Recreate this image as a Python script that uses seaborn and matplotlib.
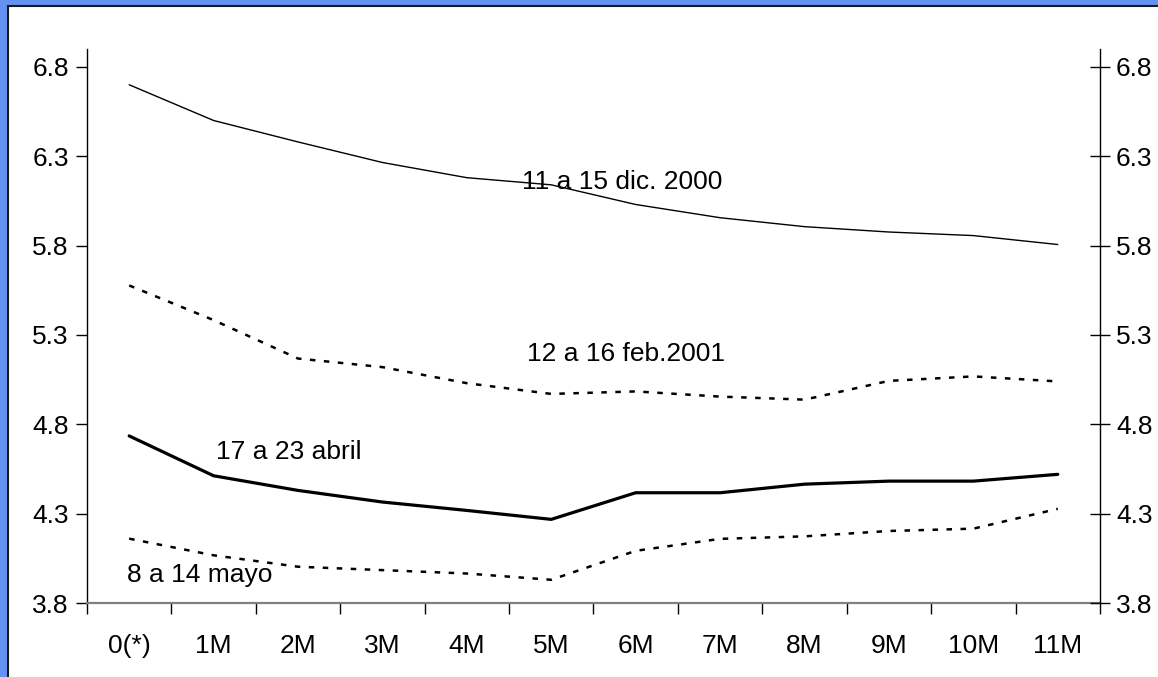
import numpy as np
import pandas as pd
import seaborn as sns
import matplotlib.pyplot as plt
from matplotlib.patches import Rectangle

# plazos
plazos = ['0(*)', '1M', '2M', '3M', '4M', '5M', '6M', '7M', '8M', '9M', '10M', '11M']

# curvas por semana
dic_2000 = [6.70, 6.50, 6.38, 6.265, 6.18, 6.14, 6.03, 5.956, 5.906, 5.876, 5.856, 5.806]
feb_2001 = [5.577, 5.383, 5.168, 5.12, 5.03, 4.97, 4.984, 4.955, 4.938, 5.043, 5.068, 5.04]
abril = [4.735, 4.512, 4.43, 4.365, 4.318, 4.268, 4.417, 4.417, 4.465, 4.482, 4.482, 4.52]
mayo = [4.16, 4.067, 4.003, 3.984, 3.965, 3.93, 4.092, 4.159, 4.173, 4.203, 4.216, 4.327]

etiquetas = ['11 a 15 dic. 2000', '12 a 16 feb.2001', '17 a 23 abril', '8 a 14 mayo']
yticks = [3.8, 4.3, 4.8, 5.3, 5.8, 6.3, 6.8]

sns.set_style("white")
plt.rcParams['font.family'] = ['Liberation Sans', 'DejaVu Sans']
plt.rcParams['text.color'] = 'black'
plt.rcParams['xtick.color'] = 'black'
plt.rcParams['ytick.color'] = 'black'

fig = plt.figure(figsize=(11.58, 6.77), dpi=100)
fig.patch.set_facecolor('#6492F2')
# panel blanco con borde oscuro
fig.patches.append(Rectangle((8 / 1158, -0.02), 1.1, 1.02 - 6 / 677,
                             transform=fig.transFigure, facecolor='white',
                             edgecolor='#1a1a1a', linewidth=1.5, zorder=-5))

ax = fig.add_axes([0.0751, 0.1093, 0.8748, 0.8183])
ax.set_facecolor('none')

estilos = [
    (dic_2000, 1.0, '-'),
    (feb_2001, 1.8, (0, (2.2, 3.4))),
    (abril, 2.3, '-'),
    (mayo, 1.8, (0, (2.2, 3.4))),
]
for vals, lw, ls in estilos:
    sns.lineplot(x=plazos, y=vals, ax=ax, color='black', linewidth=lw,
                 linestyle=ls, sort=False)

ax.set_xlim(-0.5, 11.5)
ax.set_ylim(3.8, 6.9)
ax.set_yticks(yticks)
ax.set_yticklabels([f'{v:.1f}' for v in yticks])

ax.set_xticks(np.arange(-0.5, 12, 1))
ax.set_xticklabels([])
ax.set_xticks(np.arange(12), minor=True)
ax.set_xticklabels(plazos, minor=True)

ax.tick_params(axis='x', which='major', direction='out', length=8,
               width=1, color='black', bottom=True)
ax.tick_params(axis='x', which='minor', length=0, pad=22, labelsize=19)
ax.tick_params(axis='y', direction='out', length=8, width=1, pad=5,
               labelsize=19, left=True)

ax.spines['top'].set_visible(False)
ax.spines['left'].set_color('black')
ax.spines['left'].set_linewidth(1)
ax.spines['right'].set_visible(False)
ax.spines['bottom'].set_color('#808080')
ax.spines['bottom'].set_linewidth(1.6)

ax2 = ax.twinx()
ax2.set_ylim(3.8, 6.9)
ax2.set_yticks(yticks)
ax2.set_yticklabels([f'{v:.1f}' for v in yticks])
ax2.tick_params(axis='y', direction='inout', length=15, width=1, pad=4,
                labelsize=19, right=True)
for s in ['top', 'left', 'bottom']:
    ax2.spines[s].set_visible(False)
ax2.spines['right'].set_color('black')
ax2.spines['right'].set_linewidth(1)

ax.set_xlabel(None)
ax.set_ylabel(None)
ax2.set_ylabel(None)

# etiquetas de las curvas
pos_txt = [(5.84, 6.158), (5.89, 5.195), (1.887, 4.645), (0.839, 3.958)]
for txt, (x, y) in zip(etiquetas, pos_txt):
    ax.text(x, y, txt, ha='center', va='center', fontsize=19, color='black')

plt.savefig('out.png', dpi=100, facecolor=fig.get_facecolor())
